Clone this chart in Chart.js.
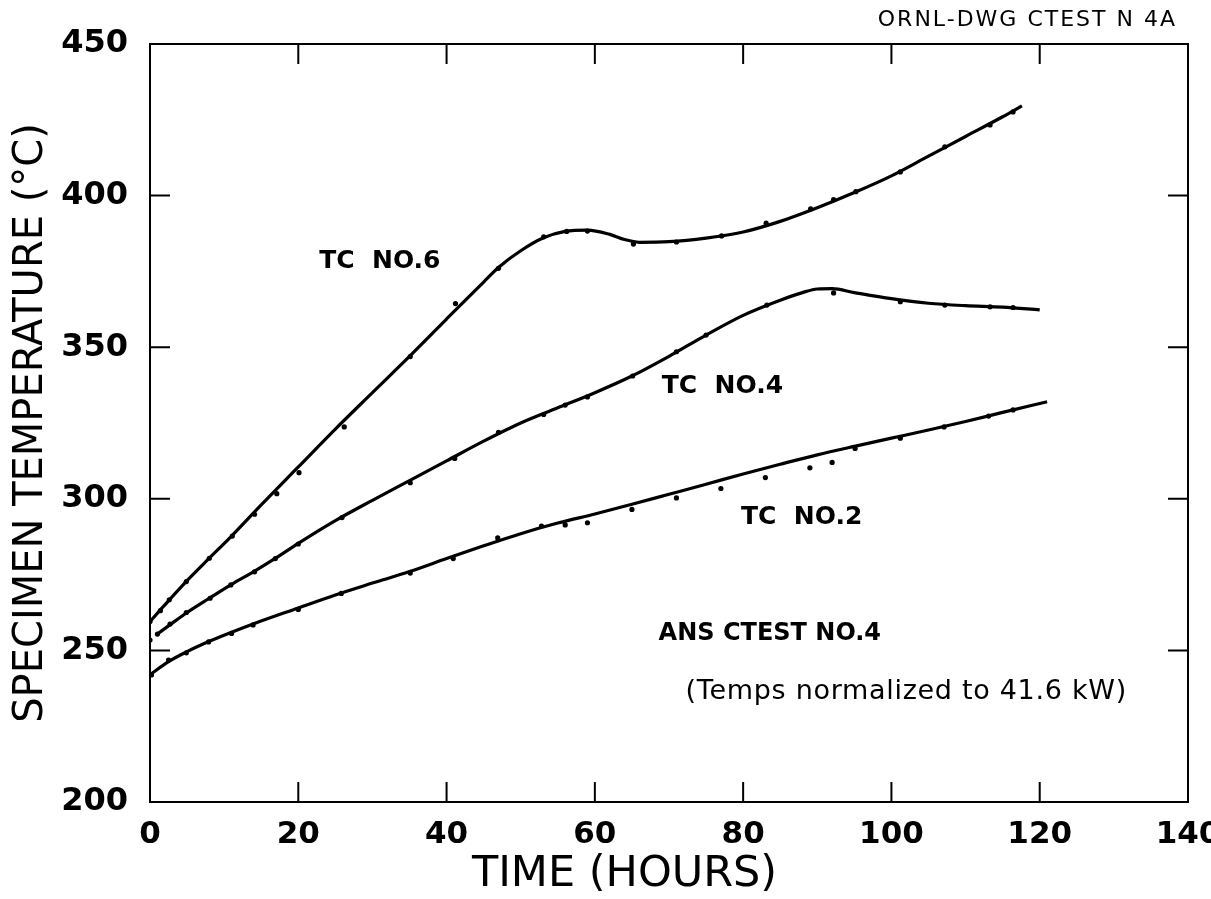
<!DOCTYPE html>
<html>
<head>
<meta charset="utf-8">
<script src="https://cdn.jsdelivr.net/npm/chart.js@4.4.1/dist/chart.umd.min.js"></script>
<style>
  html, body { margin: 0; padding: 0; background: #fff; }
  #wrap { width: 1211px; height: 899px; position: relative; }
</style>
</head>
<body>
<div id="wrap"><canvas id="grafico"></canvas></div>
<script>
// Eixos
const xTicks = [0, 20, 40, 60, 80, 100, 120, 140];
const yTicks = [200, 250, 300, 350, 400, 450];

// Curvas ajustadas (linhas continuas)
const tc6CurveX = [0, 2, 5, 8, 11, 15, 20, 25, 30, 35, 40, 45, 47, 50, 53, 56, 59, 62, 64, 66, 70, 75, 80, 85, 90, 95, 100, 105, 110, 115, 117.6];
const tc6CurveY = [259.5, 265, 273, 280.4, 287.7, 298, 310.5, 323, 335, 347, 359.3, 371.5, 376.3, 381.8, 386, 388.2, 388.6, 387.2, 385.5, 384.6, 384.8, 386, 388, 391.5, 396, 401, 406.5, 413, 419.5, 426, 429.6];

const tc4CurveX = [1, 3, 5, 8, 11, 14, 17, 20, 25, 30, 35, 40, 45, 50, 55, 60, 65, 70, 75, 80, 85, 88, 90, 92, 95, 100, 105, 110, 115, 120];
const tc4CurveY = [255.4, 259, 262.5, 267.2, 271.8, 276, 280.5, 285.3, 292.8, 299.5, 306, 312.5, 319, 325, 330, 335, 340.5, 347, 354, 360.5, 365.5, 368, 369.2, 369.3, 368, 366, 364.5, 363.7, 363.2, 362.3];

const tc2CurveX = [0, 2.5, 5, 8, 11, 14, 20, 25, 30, 35, 40, 45, 50, 55, 60, 65, 70, 75, 80, 85, 90, 95, 100, 105, 110, 115, 121];
const tc2CurveY = [242, 246.3, 249.6, 253, 256, 258.8, 264, 268.3, 272.2, 276, 280.3, 284.5, 288.5, 292, 295, 298.2, 301.5, 304.8, 308.2, 311.4, 314.5, 317.3, 320, 322.7, 325.5, 328.5, 332];

// Pontos medidos
const tc6PtsX = [0, 1.4, 2.6, 4.9, 8, 11.1, 14.1, 17.1, 20.1, 26.2, 35.1, 41.2, 47, 53.1, 56.2, 59, 65.2, 71, 77.1, 83.1, 89.1, 92.2, 95.2, 101.2, 107.2, 113.3, 116.4];
const tc6PtsY = [259.5, 263.1, 266.7, 272.7, 280.4, 287.7, 294.9, 301.7, 308.6, 323.7, 346.9, 364.4, 376, 386.4, 388.2, 388.3, 384, 384.7, 386.7, 390.9, 395.6, 398.7, 401.3, 407.8, 416.1, 423.3, 427.6];

const tc4PtsX = [0, 1, 2.7, 4.9, 8.1, 10.9, 14.1, 16.9, 20, 25.9, 35.1, 41.1, 47, 53.1, 56, 59, 65.1, 71, 75, 83.2, 92.2, 101.2, 107.2, 113.3, 116.4];
const tc4PtsY = [253.4, 255.4, 258.7, 262.5, 267.2, 271.6, 275.9, 280.3, 285.1, 293.8, 305.3, 313.3, 321.9, 327.8, 330.9, 333.6, 340.5, 348.5, 354, 363.9, 367.9, 365, 363.9, 363.3, 363.1];

const tc2PtsX = [0.2, 2.5, 4.9, 7.9, 11, 13.9, 20, 25.8, 35.1, 40.9, 46.9, 52.8, 56, 59, 65, 71, 77, 83, 89, 92, 95.1, 101.2, 107.1, 113.1, 116.4];
const tc2PtsY = [241.9, 246.8, 249.2, 252.8, 255.6, 258.4, 263.5, 268.8, 275.5, 280.3, 287.1, 291, 291.4, 292.1, 296.5, 300.3, 303.4, 307, 310.2, 312, 316.6, 320, 323.7, 327.3, 329.3];

// Rotulos dentro do grafico (posicao em unidades dos dados)
const rotulos = [
    { texto: 'TC  NO.6', x: 31, y: 378.4, fonte: 'bold 25px "DejaVu Sans"', esp: '0px' },
    { texto: 'TC  NO.4', x: 77.2, y: 336.9, fonte: 'bold 25px "DejaVu Sans"', esp: '0px' },
    { texto: 'TC  NO.2', x: 87.9, y: 293.7, fonte: 'bold 25px "DejaVu Sans"', esp: '0px' },
    { texto: 'ANS CTEST NO.4', x: 83.6, y: 255.4, fonte: 'bold 24px "DejaVu Sans"', esp: '0px' },
    { texto: '(Temps normalized to 41.6 kW)', x: 102, y: 236.3, fonte: '27px "DejaVu Sans"', esp: '0.7px' }
];

function juntar(xs, ys) {
    return xs.map((x, i) => ({ x: x, y: ys[i] }));
}

function curva(xs, ys) {
    return {
        data: juntar(xs, ys),
        showLine: true,
        borderColor: '#000',
        borderWidth: 3.2,
        pointRadius: 0,
        cubicInterpolationMode: 'monotone',
        fill: false
    };
}

function pontos(xs, ys) {
    return {
        data: juntar(xs, ys),
        showLine: false,
        pointRadius: 2.6,
        pointBackgroundColor: '#000',
        pointBorderWidth: 0
    };
}

// Plugin: moldura, tracos internos e textos
const extras = {
    id: 'extras',
    afterDraw(chart) {
        const ctx = chart.ctx;
        const a = chart.chartArea;
        const sx = chart.scales.x;
        const sy = chart.scales.y;
        ctx.save();
        ctx.strokeStyle = '#000';
        ctx.lineWidth = 2;
        ctx.strokeRect(a.left, a.top, a.right - a.left, a.bottom - a.top);
        ctx.beginPath();
        xTicks.forEach(v => {
            const px = sx.getPixelForValue(v);
            ctx.moveTo(px, a.bottom); ctx.lineTo(px, a.bottom - 20);
            ctx.moveTo(px, a.top); ctx.lineTo(px, a.top + 20);
        });
        yTicks.forEach(v => {
            const py = sy.getPixelForValue(v);
            ctx.moveTo(a.left, py); ctx.lineTo(a.left + 20, py);
            ctx.moveTo(a.right, py); ctx.lineTo(a.right - 20, py);
        });
        ctx.stroke();

        ctx.fillStyle = '#000';
        ctx.textAlign = 'center';
        ctx.textBaseline = 'middle';
        rotulos.forEach(r => {
            ctx.font = r.fonte;
            ctx.letterSpacing = r.esp;
            ctx.fillText(r.texto, sx.getPixelForValue(r.x), sy.getPixelForValue(r.y));
        });

        // Titulo do eixo X
        ctx.letterSpacing = '0px';
        ctx.font = '43px "DejaVu Sans"';
        ctx.fillText('TIME (HOURS)', sx.getPixelForValue(64), 875);

        ctx.font = '22px "DejaVu Sans"';
        ctx.letterSpacing = '2px';
        ctx.textAlign = 'right';
        ctx.fillText('ORNL-DWG CTEST N 4A', a.right - 11, 20);
        ctx.restore();
    }
};

new Chart(document.getElementById('grafico'), {
    type: 'scatter',
    data: {
        datasets: [
            curva(tc6CurveX, tc6CurveY),
            curva(tc4CurveX, tc4CurveY),
            curva(tc2CurveX, tc2CurveY),
            pontos(tc6PtsX, tc6PtsY),
            pontos(tc4PtsX, tc4PtsY),
            pontos(tc2PtsX, tc2PtsY)
        ]
    },
    options: {
        responsive: true,
        maintainAspectRatio: false,
        animation: false,
        layout: { padding: { left: 0, top: 44, right: 23, bottom: 0 } },
        plugins: {
            legend: { display: false },
            tooltip: { enabled: false }
        },
        scales: {
            x: {
                type: 'linear',
                min: 0,
                max: 140,
                afterBuildTicks: s => { s.ticks = xTicks.map(v => ({ value: v })); },
                afterFit: s => { s.height = 97; s.paddingLeft = 0; s.paddingRight = 0; },
                grid: { display: false, drawTicks: false },
                border: { display: false },
                ticks: {
                    color: '#000',
                    padding: 14,
                    maxRotation: 0,
                    font: { family: 'DejaVu Sans', size: 31, weight: 'bold' }
                },
                title: { display: false }
            },
            y: {
                type: 'linear',
                min: 200,
                max: 450,
                afterBuildTicks: s => { s.ticks = yTicks.map(v => ({ value: v })); },
                afterFit: s => { s.width = 150; },
                grid: { display: false, drawTicks: false },
                border: { display: false },
                ticks: {
                    color: '#000',
                    padding: 22,
                    font: { family: 'DejaVu Sans', size: 32, weight: 'bold' }
                },
                title: {
                    display: true,
                    text: 'SPECIMEN TEMPERATURE (°C)',
                    color: '#000',
                    padding: { top: 8, bottom: 0 },
                    font: { family: 'DejaVu Sans', size: 40 }
                }
            }
        }
    },
    plugins: [extras]
});
</script>
</body>
</html>
